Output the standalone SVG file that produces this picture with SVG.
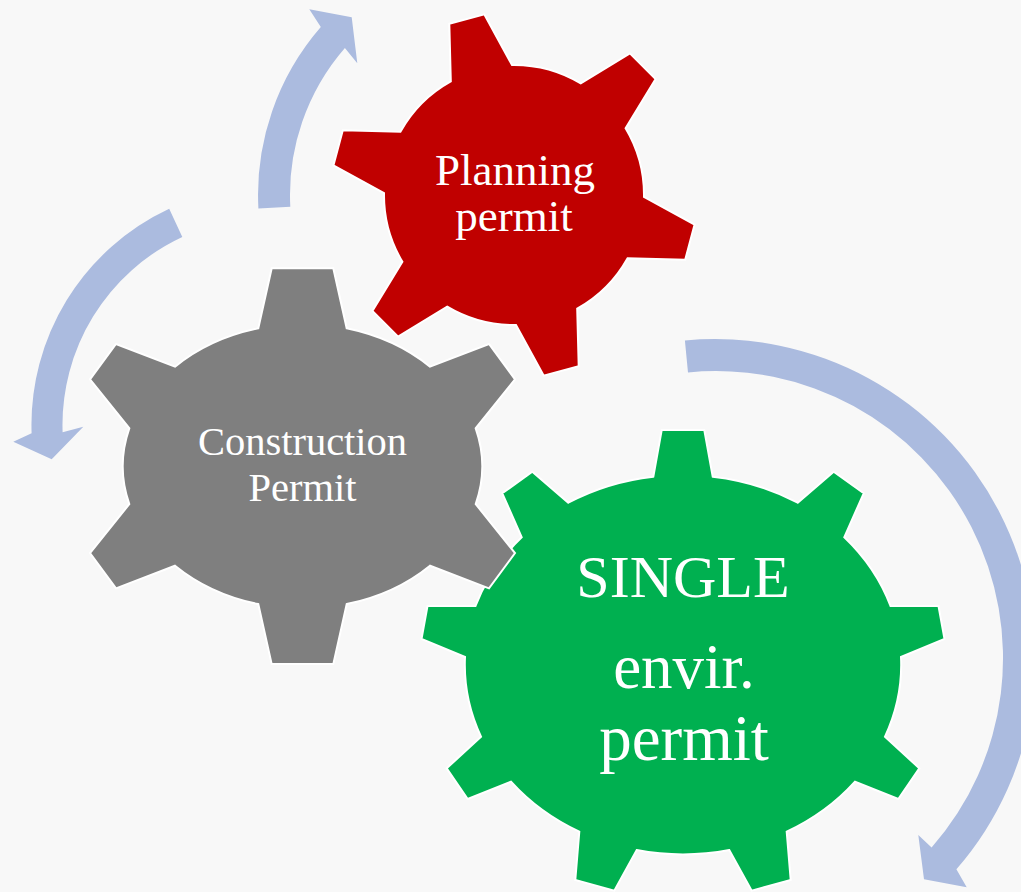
<svg xmlns="http://www.w3.org/2000/svg" width="1021" height="892" viewBox="0 0 1021 892">
<style>
.bg{fill:#f8f8f8}
.arrow{fill:#abbbdf;stroke:none}
.gear{stroke:#ffffff;stroke-width:2;stroke-linejoin:miter}
.lbl{font-family:"Liberation Serif","Times New Roman",serif;fill:#ffffff;text-anchor:middle}
</style>
<rect class="bg" x="0" y="0" width="1021" height="892"/>
<g id="connectors">
<path id="arrow-top" class="arrow" d="M258.4,208.4 A256,256 0 0 1 320.8,27 L309.3,9.3 L351.7,17.3 L357.3,63.3 L344.9,48 A224,224 0 0 0 290.3,206.7 Z"/>
<path id="arrow-left" class="arrow" d="M169.2,208.8 A238.5,238.5 0 0 0 31.6,433.3 L13.3,441.7 L51.7,459.3 L83.3,426.7 L62.6,432.2 A207.5,207.5 0 0 1 182.3,236.9 Z"/>
<path id="arrow-right" class="arrow" d="M684.9,340.5 A320,320 0 0 1 956.4,869.3 L966.7,887.3 L924,879.3 L918.3,835 L931.6,847.5 A287,287 0 0 0 688,372.4 Z"/>
</g>
<g id="gear-single">
<path class="gear" fill="#00b050" d="M653.3,476.7 L661.7,430 L704.3,430 L712.7,476.7 A218,190 0 0 1 797.7,502.7 L833.7,471.7 L863.7,493.3 L844.3,537.3 A218,190 0 0 1 890.5,606 L938.5,606 L944.5,639 L901,657 A218,190 0 0 1 885,736.7 L919.3,768.3 L898.3,799 L855,781.7 A218,190 0 0 1 786.7,831.7 L790.7,880 L751.7,890.7 L729.3,850 A218,190 0 0 1 636.7,850 L614.3,890.7 L575.3,880 L579.3,831.7 A218,190 0 0 1 511,781.7 L467.7,799 L446.7,768.3 L481,736.7 A218,190 0 0 1 465,657 L421.5,639 L427.5,606 L475.5,606 A218,190 0 0 1 521.7,537.3 L502.3,493.3 L532.3,471.7 L568.3,502.7 A218,190 0 0 1 653.3,476.7 Z"/>
<text class="lbl" x="683" y="597" font-size="60">SINGLE</text>
<text class="lbl" x="684" y="688" font-size="63">envir.</text>
<text class="lbl" x="684" y="760" font-size="65">permit</text>
</g>
<g id="gear-planning">
<path class="gear" fill="#c00000" d="M450.8,81.4 L449.3,23.8 L484.4,14.4 L512,65 A130,130 0 0 1 580.8,83.4 L629.9,53.4 L655.6,79.1 L625.6,128.2 A130,130 0 0 1 644,197 L694.6,224.6 L685.2,259.7 L627.6,258.2 A130,130 0 0 1 577.2,308.6 L578.7,366.2 L543.6,375.6 L516,325 A130,130 0 0 1 447.2,306.6 L398.1,336.6 L372.4,310.9 L402.4,261.8 A130,130 0 0 1 384,193 L333.4,165.4 L342.8,130.3 L400.4,131.8 A130,130 0 0 1 450.8,81.4 Z"/>
<text class="lbl" x="515" y="185" font-size="45">Planning</text>
<text class="lbl" x="514" y="231" font-size="45">permit</text>
</g>
<g id="gear-construction">
<path class="gear" fill="#7f7f7f" d="M258.3,328.3 L271.7,268.3 L333.3,268.3 L346.7,328.3 A179,142 0 0 1 430,366.7 L489,344 L515,379.3 L475.7,428.3 A179,142 0 0 1 475.7,504.1 L515,553.1 L489,588.4 L430,565.7 A179,142 0 0 1 346.7,604.1 L333.3,664.1 L271.7,664.1 L258.3,604.1 A179,142 0 0 1 175,565.7 L116,588.4 L90,553.1 L129.3,504.1 A179,142 0 0 1 129.3,428.3 L90,379.3 L116,344 L175,366.7 A179,142 0 0 1 258.3,328.3 Z"/>
<text class="lbl" x="302.5" y="455" font-size="40.5">Construction</text>
<text class="lbl" x="302.5" y="501" font-size="40.5">Permit</text>
</g>
</svg>
